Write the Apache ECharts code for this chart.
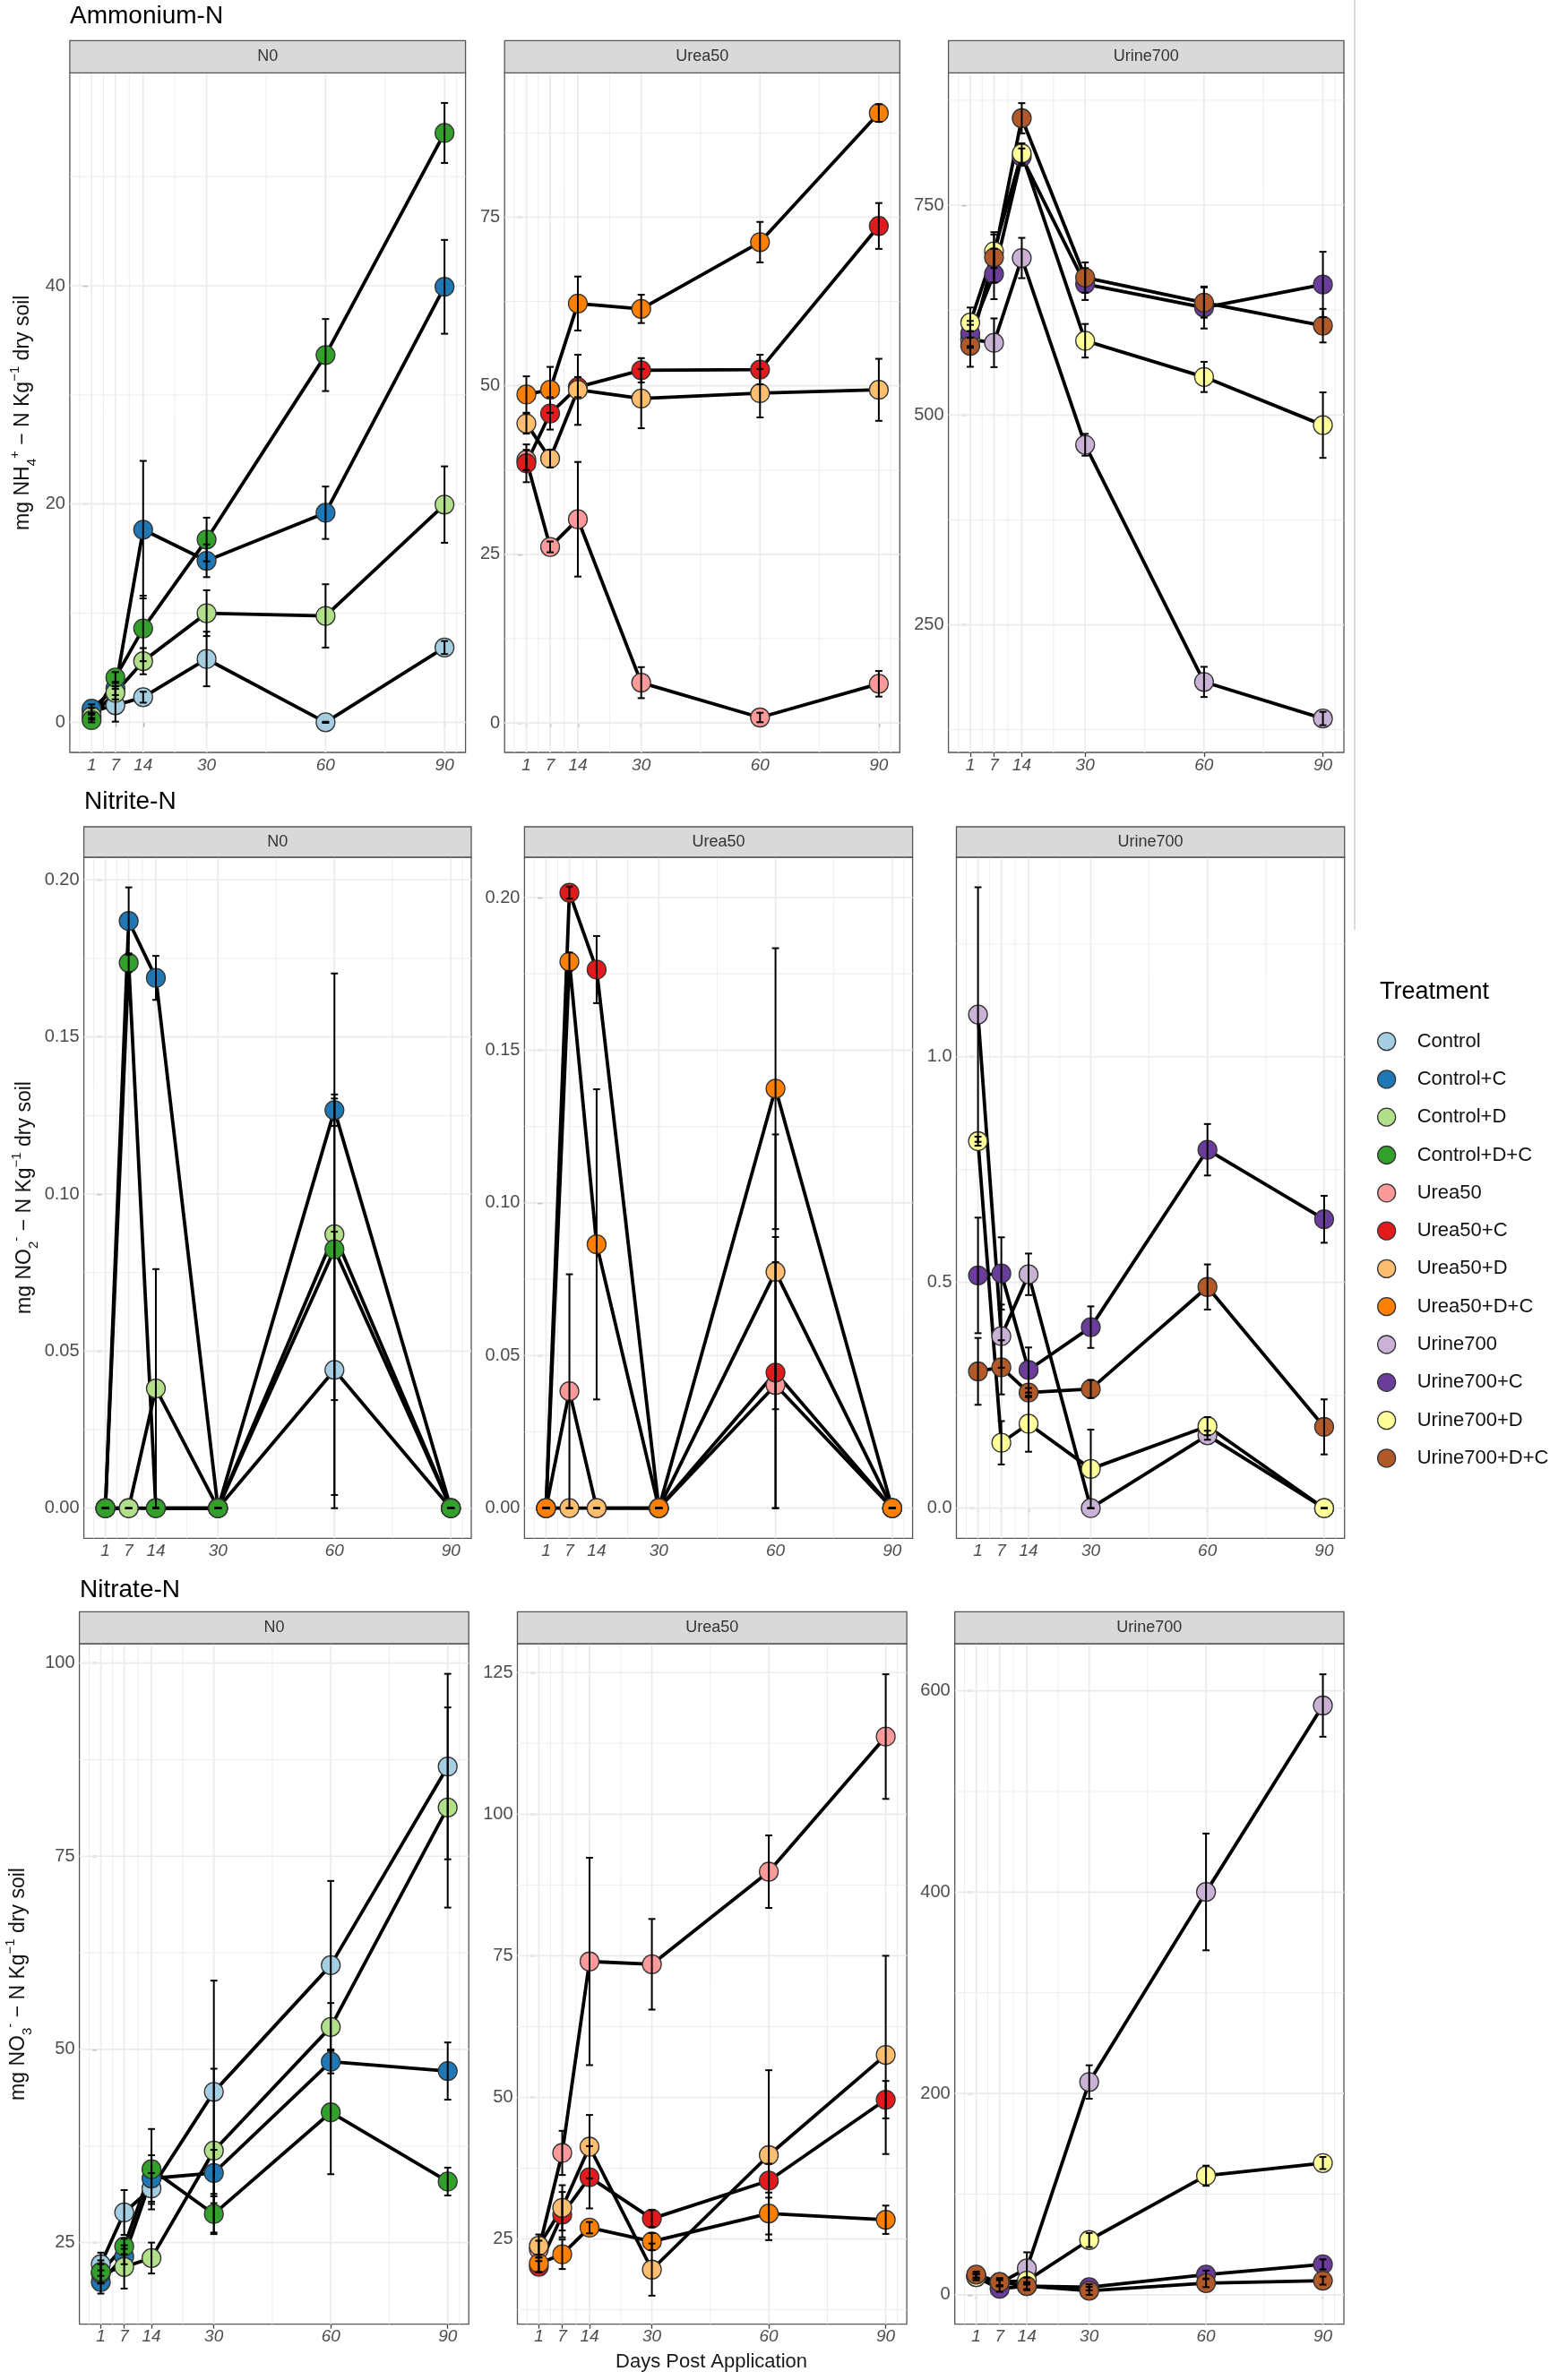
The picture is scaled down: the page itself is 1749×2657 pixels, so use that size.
<!DOCTYPE html>
<html><head><meta charset="utf-8">
<script src="https://cdn.jsdelivr.net/npm/echarts@6/dist/echarts.min.js"></script>
<style>html,body{margin:0;padding:0;background:#fff}#c{width:1749px;height:2657px}</style>
</head><body><div id="c"></div><script>
// ---------------- data ----------------
const days = [1, 7, 14, 30, 60, 90];
const treatments = ['Control','Control+C','Control+D','Control+D+C','Urea50','Urea50+C','Urea50+D','Urea50+D+C','Urine700','Urine700+C','Urine700+D','Urine700+D+C'];
const facets = ['N0','Urea50','Urine700'];
const analytes = ['Ammonium-N','Nitrite-N','Nitrate-N'];
const palette = ['#A6CEE3','#1F78B4','#B2DF8A','#33A02C','#FB9A99','#E31A1C','#FDBF6F','#FF7F00','#CAB2D6','#6A3D9A','#FFFF99','#B15928'];

// Ammonium-N (mean, SE) rows = 4 treatments of the facet, cols = days
const nh4_N0 = [
  [1.0, 1.56, 2.3, 5.8, 0.0, 6.85],
  [1.24, 3.1, 17.65, 14.8, 19.2, 39.9],
  [0.55, 2.7, 5.6, 10.0, 9.75, 19.95],
  [0.2, 4.1, 8.6, 16.75, 33.65, 54.0]];
const nh4_N0_se = [
  [0.3, 1.5, 0.5, 2.5, 0.05, 0.6],
  [0.4, 0.6, 6.3, 1.5, 2.4, 4.3],
  [0.3, 0.6, 1.2, 2.1, 2.9, 3.5],
  [0.2, 0.5, 3.0, 2.0, 3.3, 2.75]];
const nh4_Urea50 = [
  [39.0, 26.1, 30.2, 5.97, 0.8, 5.8],
  [38.5, 45.9, 49.8, 52.3, 52.4, 73.7],
  [44.4, 39.2, 49.4, 48.1, 48.9, 49.4],
  [48.7, 49.4, 62.2, 61.4, 71.3, 90.45]];
const nh4_Urea50_se = [
  [1.5, 0.8, 8.5, 2.3, 0.7, 1.9],
  [2.8, 2.4, 1.5, 1.8, 2.2, 3.4],
  [1.5, 1.3, 5.2, 4.4, 3.6, 4.6],
  [2.7, 3.4, 4.0, 2.1, 3.0, 1.3]];
const nh4_Urine700 = [
  [590, 586, 687, 464.5, 182, 138.4],
  [597, 668, 807.5, 656, 628, 655.4],
  [610, 695, 811.6, 588.4, 545.3, 487.9],
  [582.4, 687.8, 853.5, 663.8, 633.9, 606.4]];
const nh4_Urine700_se = [
  [10, 29, 24, 13, 18, 8],
  [15, 30, 10, 19, 25, 39],
  [18, 20, 12, 20, 18, 39],
  [25, 30, 18, 18, 18, 20]];

// Nitrite-N
const no2_N0 = [
  [0, 0, 0, 0, 0.044, 0],
  [0, 0.1869, 0.1688, 0, 0.1267, 0],
  [0, 0, 0.0381, 0, 0.0872, 0],
  [0, 0.1736, 0, 0, 0.0824, 0]];
const no2_N0_se = [
  [0, 0, 0, 0, 0.044, 0],
  [0, 0.0107, 0.007, 0, 0.005, 0],
  [0, 0, 0.038, 0, 0.083, 0],
  [0, 0.003, 0, 0, 0.048, 0]];
const no2_Urea50 = [
  [0, 0.0383, 0, 0, 0.0403, 0],
  [0, 0.2016, 0.1764, 0, 0.0444, 0],
  [0, 0, 0, 0, 0.0774, 0],
  [0, 0.179, 0.0864, 0, 0.1374, 0]];
const no2_Urea50_se = [
  [0, 0.0383, 0, 0, 0.0403, 0],
  [0, 0.002, 0.011, 0, 0.0444, 0],
  [0, 0, 0, 0, 0.045, 0],
  [0, 0.003, 0.0508, 0, 0.046, 0]];
const no2_Urine700 = [
  [1.0935, 0.381, 0.518, 0, 0.1615, 0],
  [0.5156, 0.52, 0.306, 0.401, 0.794, 0.640],
  [0.813, 0.1448, 0.187, 0.0869, 0.1815, 0],
  [0.303, 0.312, 0.256, 0.264, 0.49, 0.180]];
const no2_Urine700_se = [
  [0.282, 0.07, 0.046, 0, 0.01, 0],
  [0.128, 0.08, 0.05, 0.046, 0.057, 0.052],
  [0.01, 0.048, 0.062, 0.087, 0.02, 0],
  [0.074, 0.06, 0.01, 0.02, 0.05, 0.061]];

// Nitrate-N
const no3_N0 = [
  [22.2, 28.9, 32.0, 44.5, 60.9, 86.6],
  [19.9, 23.2, 33.3, 34.0, 48.4, 47.2],
  [21.0, 21.85, 23.0, 36.9, 52.9, 81.3],
  [21.2, 24.5, 34.5, 28.7, 41.85, 32.9]];
const no3_N0_se = [
  [1.5, 2.9, 2.0, 14.4, 10.9, 12.0],
  [1.5, 1.0, 3.0, 3.0, 1.5, 3.7],
  [1.2, 2.8, 2.0, 10.6, 3.1, 12.95],
  [1.5, 1.0, 5.2, 2.6, 8.0, 1.8]];
const no3_Urea50 = [
  [23.2, 40.2, 74.0, 73.5, 89.85, 113.7],
  [20.1, 29.3, 35.9, 28.6, 35.3, 49.6],
  [23.8, 30.5, 41.3, 19.6, 39.8, 57.5],
  [20.7, 22.3, 27.0, 24.55, 29.5, 28.4]];
const no3_Urea50_se = [
  [1.5, 3.9, 18.3, 8.0, 6.4, 11.0],
  [1.0, 4.0, 5.5, 1.5, 3.0, 3.3],
  [2.0, 4.0, 5.6, 4.6, 15.0, 17.5],
  [1.5, 2.6, 1.0, 1.5, 3.7, 2.5]];
const no3_Urine700 = [
  [19.0, 11.5, 26.2, 211.4, 400.2, 585.4],
  [17.6, 6.0, 8.6, 7.5, 20.1, 30.2],
  [17.6, 12.6, 14.1, 54.4, 118.3, 130.9],
  [20.1, 12.6, 8.6, 4.0, 11.6, 14.1]];
const no3_Urine700_se = [
  [2, 3, 16, 16.6, 58, 31],
  [3, 3, 3, 3, 4, 5],
  [3, 3, 3, 7, 10, 6],
  [3, 4, 4, 4, 4, 4]];

// tick labels per panel (row-major)
const yTicks = [
  [0, 20, 40], [0, 25, 50, 75], [250, 500, 750],
  [0, 0.05, 0.10, 0.15, 0.20], [0, 0.05, 0.10, 0.15, 0.20], [0, 0.5, 1.0],
  [25, 50, 75, 100], [25, 50, 75, 100, 125], [0, 200, 400, 600]];
const yDecimals = [0, 0, 0, 2, 2, 1, 0, 0, 0];
const yLimits = [
  [-2.76, 59.5], [-4.38, 96.4], [98, 907.5],
  [-0.0096, 0.2072], [-0.0099, 0.2132], [-0.0669, 1.442],
  [14.44, 102.5], [9.96, 130.1], [-29.2, 646.8]];
const xLimits = [[-4.5, 95.3], [-4.55, 95.25], [-4.5, 95.4]];

const panelMeans = [nh4_N0, nh4_Urea50, nh4_Urine700, no2_N0, no2_Urea50, no2_Urine700, no3_N0, no3_Urea50, no3_Urine700];
const panelSE = [nh4_N0_se, nh4_Urea50_se, nh4_Urine700_se, no2_N0_se, no2_Urea50_se, no2_Urine700_se, no3_N0_se, no3_Urea50_se, no3_Urine700_se];

// ---------------- layout ----------------
const FONT = "'Liberation Sans', Arial, Helvetica, sans-serif";
const rowTop = [81.4, 957, 1835];
const rowBottom = [840, 1717.4, 2594.7];
const stripH = [36, 34, 35.6];
const colLeft = [[77.9, 563.2, 1058.6], [93.6, 585.4, 1067.5], [88.6, 577.5, 1065.7]];
const colWidth = [[441.7, 441.1, 441.4], [432.4, 433.2, 433.2], [434.6, 434.6, 434.3]];
const titlePos = [[78, 18], [94, 895], [89, 1775]];
const yTitlePos = [[26, 460.7], [28, 1337], [21, 2215]];
const yTitles = [
  '{n|mg NH}{sub|4}{sup|+}{n| \u2212 N Kg}{sup|\u22121}{n| dry soil}',
  '{n|mg NO}{sub|2}{sup|-}{n| \u2212 N Kg}{sup|\u22121}{n| dry soil}',
  '{n|mg NO}{sub|3}{sup|-}{n| \u2212 N Kg}{sup|\u22121}{n| dry soil}'];

function minorBreaks(br, lim) {
  const b = br.slice();
  const bd = b[1] - b[0];
  if (lim[0] < b[0]) b.unshift(b[0] - bd);
  if (lim[1] > b[b.length - 1]) b.push(b[b.length - 1] + bd);
  const out = [];
  for (let i = 0; i < b.length - 1; i++) out.push((b[i] + b[i + 1]) / 2);
  return out.filter(v => v > lim[0] && v < lim[1]);
}

const grids = [], xAxes = [], yAxes = [], series = [], graphics = [];

function gridRender(params, api) {
  const cs = params.coordSys;
  const v = api.value(0), o = api.value(1), maj = api.value(2);
  let shape;
  if (o === 0) {
    const p = api.coord([v, api.value(3)]);
    shape = { x1: p[0], y1: cs.y, x2: p[0], y2: cs.y + cs.height };
  } else {
    const p = api.coord([api.value(3), v]);
    shape = { x1: cs.x, y1: p[1], x2: cs.x + cs.width, y2: p[1] };
  }
  return { type: 'line', shape, style: { stroke: '#ebebeb', lineWidth: maj ? 1.7 : 0.9 }, silent: true };
}

function errRender(params, api) {
  const x = api.value(0), lo = api.value(1), hi = api.value(2);
  const a = api.coord([x, hi]), b = api.coord([x, lo]);
  const hw = Math.abs(api.coord([x + 0.9, hi])[0] - a[0]);
  const st = { stroke: '#000', lineWidth: 2 };
  return { type: 'group', children: [
    { type: 'line', shape: { x1: a[0], y1: a[1], x2: b[0], y2: b[1] }, style: st },
    { type: 'line', shape: { x1: a[0] - hw, y1: a[1], x2: a[0] + hw, y2: a[1] }, style: st },
    { type: 'line', shape: { x1: b[0] - hw, y1: b[1], x2: b[0] + hw, y2: b[1] }, style: st }
  ]};
}

for (let p = 0; p < 9; p++) {
  const r = Math.floor(p / 3), c = p % 3;
  const left = colLeft[r][c], width = colWidth[r][c];
  const top = rowTop[r], height = rowBottom[r] - rowTop[r];
  const xl = xLimits[r], yl = yLimits[p];
  grids.push({ left, top, width, height, show: true, backgroundColor: '#fff', borderColor: '#555', borderWidth: 1.3 });
  xAxes.push({
    type: 'value', gridIndex: p, min: xl[0], max: xl[1],
    axisLine: { show: false },
    axisTick: { show: true, customValues: days, length: 5, lineStyle: { color: '#444', width: 1.3 } },
    axisLabel: { customValues: days, color: '#4d4d4d', fontStyle: 'italic', fontSize: 19, fontFamily: FONT, margin: 5 },
    splitLine: { show: false }, minorSplitLine: { show: false }
  });
  const dec = yDecimals[p];
  yAxes.push({
    type: 'value', gridIndex: p, min: yl[0], max: yl[1],
    axisLine: { show: false },
    axisTick: { show: true, customValues: yTicks[p], length: 5, lineStyle: { color: '#444', width: 1.3 } },
    axisLabel: { customValues: yTicks[p], color: '#4d4d4d', fontSize: 20, fontFamily: FONT, margin: 5,
      formatter: v => Number(v).toFixed(dec) },
    splitLine: { show: false }
  });
  // panel grid lines
  const gl = [];
  minorBreaks(days, xl).forEach(v => gl.push([v, 0, 0, yl[0]]));
  minorBreaks(yTicks[p], yl).forEach(v => gl.push([v, 1, 0, xl[0]]));
  days.forEach(v => gl.push([v, 0, 1, yl[0]]));
  yTicks[p].forEach(v => gl.push([v, 1, 1, xl[0]]));
  series.push({ type: 'custom', name: 'grid' + p, xAxisIndex: p, yAxisIndex: p, z: 1, silent: true, clip: false,
    data: gl, renderItem: gridRender, encode: { x: 0, y: 3 } });

  const means = panelMeans[p], se = panelSE[p];
  for (let k = 0; k < 4; k++) {
    const t = c * 4 + k;
    const pts = days.map((d, i) => [d, means[k][i]]);
    series.push({ type: 'line', name: 'line ' + treatments[t] + ' ' + p, xAxisIndex: p, yAxisIndex: p, z: 2,
      data: pts, symbol: 'none', silent: true, lineStyle: { color: '#000', width: 3.8 } });
  }
  for (let k = 0; k < 4; k++) {
    const t = c * 4 + k;
    const pts = days.map((d, i) => [d, means[k][i]]);
    series.push({ type: 'scatter', name: treatments[t], xAxisIndex: p, yAxisIndex: p, z: 3,
      data: pts, symbol: 'circle', symbolSize: 21, silent: true,
      itemStyle: { color: palette[t], borderColor: '#333', borderWidth: 1.3, opacity: 1 } });
  }
  for (let k = 0; k < 4; k++) {
    const t = c * 4 + k;
    const eb = days.map((d, i) => [d, means[k][i] - se[k][i], means[k][i] + se[k][i]]);
    series.push({ type: 'custom', name: 'err ' + treatments[t] + ' ' + p, xAxisIndex: p, yAxisIndex: p, z: 4,
      silent: true, clip: false, data: eb, renderItem: errRender, encode: { x: 0, y: [1, 2] } });
  }
  // strip
  const sh = stripH[r];
  graphics.push({ type: 'rect', shape: { x: left, y: top - sh, width: width, height: sh },
    style: { fill: '#d9d9d9', stroke: '#555', lineWidth: 1.3 }, z: 10 });
  graphics.push({ type: 'text', x: left + width / 2, y: top - sh / 2, z: 11,
    style: { text: facets[c], fill: '#333', fontSize: 18, fontFamily: FONT, align: 'center', verticalAlign: 'middle' } });
}

for (let r = 0; r < 3; r++) {
  graphics.push({ type: 'text', x: titlePos[r][0], y: titlePos[r][1], z: 11,
    style: { text: analytes[r], fill: '#000', fontSize: 28, fontFamily: FONT, align: 'left', verticalAlign: 'middle' } });
  graphics.push({ type: 'text', x: yTitlePos[r][0], y: yTitlePos[r][1], rotation: Math.PI / 2, z: 11,
    style: { text: yTitles[r], align: 'center', verticalAlign: 'middle', fill: '#111', fontFamily: FONT,
      rich: {
        n: { fontSize: 23, lineHeight: 34, fontFamily: FONT, fill: '#111' },
        sub: { fontSize: 15, lineHeight: 15, verticalAlign: 'bottom', fontFamily: FONT, fill: '#111' },
        sup: { fontSize: 15, lineHeight: 15, verticalAlign: 'top', fontFamily: FONT, fill: '#111' }
      } } });
}
graphics.push({ type: 'text', x: 794, y: 2637, z: 11,
  style: { text: 'Days Post Application', fill: '#1a1a1a', fontSize: 22, fontFamily: FONT, align: 'center', verticalAlign: 'middle' } });
graphics.push({ type: 'text', x: 1540, y: 1108, z: 11,
  style: { text: 'Treatment', fill: '#000', fontSize: 27, fontFamily: FONT, align: 'left', verticalAlign: 'middle' } });
graphics.push({ type: 'line', shape: { x1: 1512, y1: 0, x2: 1512, y2: 1038 }, style: { stroke: '#d0d0d0', lineWidth: 1.5 }, z: 0 });

const chart = echarts.init(document.getElementById('c'), null, { renderer: 'canvas' });
chart.setOption({
  backgroundColor: '#fff',
  animation: false,
  grid: grids, xAxis: xAxes, yAxis: yAxes, series: series,
  graphic: { elements: graphics },
  legend: {
    data: treatments, orient: 'vertical', left: 1532, top: 1146.6,
    icon: 'circle', itemWidth: 58, itemHeight: 20, itemGap: 20.3, symbolKeepAspect: true,
    itemStyle: { borderColor: '#333', borderWidth: 1.3 },
    textStyle: { fontSize: 22, color: '#111', fontFamily: FONT, lineHeight: 22 },
    selectedMode: false
  }
});
</script></body></html>
